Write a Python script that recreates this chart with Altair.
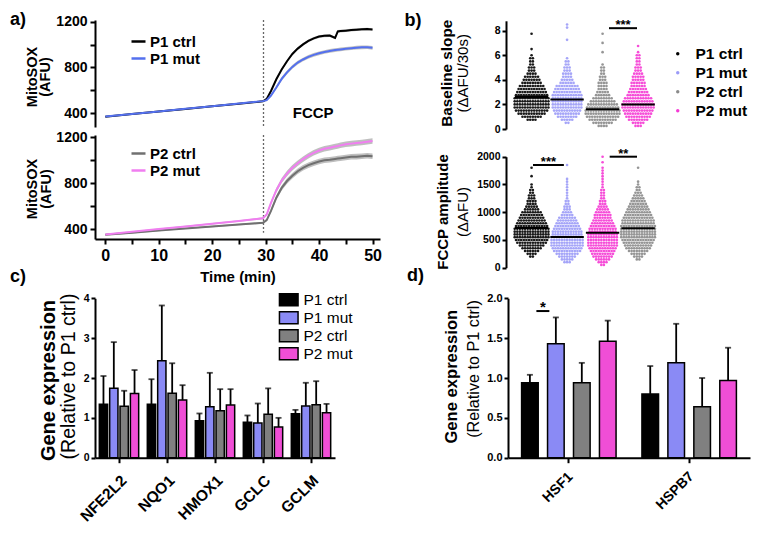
import altair as alt
import pandas as pd

FONT = "Liberation Sans"
W, H = 744, 518

# ---------------- data ----------------
series_names = ["P1 ctrl", "P1 mut", "P2 ctrl", "P2 mut"]

# a) MitoSOX traces (AFU) over time (min)
a_time = [0, 5, 10, 15, 20, 25, 29.5, 30.2, 31, 32, 33, 34, 35, 36, 37, 38, 39, 40,
          41, 42, 43, 43.5, 44, 45, 46, 47, 48, 49, 50]
a_p1_ctrl = [370, 393, 415, 438, 461, 484, 505, 525, 595, 697, 783, 855, 918, 965, 1002,
             1032, 1054, 1070, 1077, 1079, 1058, 1115, 1118, 1122, 1127, 1130, 1134, 1136, 1132]
a_p1_mut = [372, 394, 416, 439, 462, 485, 506, 515, 555, 625, 700, 758, 805, 843, 870,
            893, 910, 924, 935, 945, 952, 955, 958, 964, 968, 973, 976, 977, 972]
a_p2_ctrl = [352, 370, 390, 408, 425, 442, 457, 480, 560, 675, 760, 820, 866, 905, 935,
             958, 975, 990, 1000, 1005, 1012, 1015, 1018, 1025, 1030, 1032, 1036, 1040, 1035]
a_p2_mut = [355, 378, 402, 425, 448, 472, 496, 530, 630, 740, 825, 885, 935, 975, 1010,
            1040, 1065, 1085, 1100, 1110, 1120, 1124, 1130, 1140, 1145, 1150, 1155, 1162, 1168]
a_sem_p1_ctrl = [5, 5, 5, 5, 5, 5, 6, 8, 10, 12, 12, 12, 12, 12, 12, 12, 12, 12, 12, 12,
                 12, 12, 12, 12, 12, 12, 12, 12, 12]
a_sem_p1_mut = [5, 5, 5, 5, 5, 5, 6, 8, 10, 14, 16, 16, 16, 16, 16, 16, 16, 16, 16, 16,
                16, 16, 16, 16, 16, 16, 16, 16, 16]
a_sem_p2_ctrl = [6, 6, 6, 6, 6, 6, 8, 10, 14, 20, 22, 24, 24, 24, 24, 24, 24, 24, 24, 24,
                 24, 24, 24, 24, 24, 24, 24, 24, 24]
a_sem_p2_mut = [6, 6, 6, 6, 6, 6, 8, 10, 14, 20, 22, 24, 24, 24, 24, 24, 24, 24, 24, 24,
                24, 24, 24, 24, 24, 24, 24, 24, 24]
a_fccp_time = 29.6
a_xticks = [0, 5, 10, 15, 20, 25, 30, 35, 40, 45, 50]
a_yticks = [400, 600, 800, 1000, 1200]

# b) single-cell swarm data: counts of cells per value row
slope_order = ["P1 ctrl", "P1 mut", "P2 ctrl", "P2 mut"]
slope_bins = [0.25, 0.5, 0.75, 1.0, 1.25, 1.5, 1.75, 2.0, 2.25, 2.5, 2.75, 3.0, 3.25, 3.5,
              3.75, 4.0, 4.25, 4.5, 4.75, 5.0, 5.25, 5.5, 5.75, 6.0, 6.25, 6.5, 6.75, 7.0,
              7.25, 7.5, 7.75, 8.0, 8.25, 8.5]
slope_p1_ctrl = [0, 0, 4, 8, 11, 13, 14, 14, 14, 14, 13, 12, 11, 10, 8, 7, 6, 4, 3, 3,
                 2, 2, 2, 1, 0, 1, 0, 0, 0, 0, 1, 0, 0, 0]
slope_p1_mut = [0, 2, 5, 8, 10, 11, 12, 12, 12, 12, 12, 11, 10, 9, 6, 5, 4, 4, 3, 3,
                2, 2, 1, 0, 0, 0, 0, 0, 1, 0, 0, 0, 1, 1]
slope_p2_ctrl = [4, 8, 11, 13, 14, 14, 13, 12, 10, 8, 6, 5, 4, 4, 4, 3, 3, 2, 2, 2,
                 1, 0, 0, 0, 1, 0, 0, 1, 0, 0, 1, 0, 0, 0]
slope_p2_mut = [3, 5, 8, 10, 11, 12, 13, 13, 12, 11, 9, 8, 7, 6, 6, 5, 5, 4, 3, 3,
                2, 2, 2, 2, 1, 0, 1, 0, 0, 0, 0, 0, 0, 0]
slope_medians = [2.6, 2.4, 1.6, 2.0]

amp_order = ["P1 ctrl", "P1 mut", "P2 mut", "P2 ctrl"]
amp_bins = [50, 100, 150, 200, 250, 300, 350, 400, 450, 500, 550, 600, 650, 700, 750, 800,
            850, 900, 950, 1000, 1050, 1100, 1150, 1200, 1250, 1300, 1350, 1400, 1450, 1500,
            1550, 1600, 1650, 1700, 1750, 1800, 1850, 1900, 1950, 2000]
amp_p1_ctrl = [0, 0, 0, 2, 4, 6, 8, 10, 12, 13, 14, 14, 14, 14, 13, 12, 11, 10, 9, 8,
               6, 5, 4, 4, 3, 3, 2, 2, 1, 1, 0, 0, 1, 0, 0, 1, 0, 0, 0, 0]
amp_p1_mut = [0, 3, 5, 7, 9, 11, 12, 13, 13, 13, 13, 12, 12, 11, 10, 9, 8, 7, 5, 4,
              3, 3, 2, 2, 1, 1, 1, 1, 1, 1, 1, 1, 0, 0, 0, 0, 1, 0, 0, 0]
amp_p2_mut = [2, 4, 6, 8, 9, 10, 11, 12, 12, 12, 12, 12, 11, 11, 10, 9, 8, 7, 7, 6,
              5, 4, 3, 3, 2, 2, 2, 2, 1, 1, 1, 1, 1, 1, 1, 1, 0, 1, 0, 1]
amp_p2_ctrl = [0, 0, 2, 4, 6, 8, 10, 11, 12, 13, 14, 14, 14, 14, 14, 13, 13, 12, 11, 10,
               9, 8, 7, 6, 5, 4, 3, 2, 2, 1, 1, 0, 0, 0, 0, 1, 0, 0, 0, 0]
amp_medians = [715, 555, 630, 710]

# significance bars: (from group position, to group position, height, label)
slope_sig = [(2.18, 2.97, 8.2, "***")]
amp_sig = [(0.04, 0.91, 1850, "***"), (2.2, 2.97, 2000, "**")]

# c) gene expression (relative to P1 ctrl): means and SD
genes_c = ["NFE2L2", "NQO1", "HMOX1", "GCLC", "GCLM"]
c_p1_ctrl = [1.34, 1.34, 0.93, 0.89, 1.10]
c_p1_mut = [1.74, 2.43, 1.28, 0.87, 1.30]
c_p2_ctrl = [1.29, 1.62, 1.18, 1.09, 1.33]
c_p2_mut = [1.61, 1.45, 1.32, 0.77, 1.13]
c_p1_ctrl_sd = [0.71, 0.63, 0.18, 0.17, 0.10]
c_p1_mut_sd = [1.16, 1.39, 0.85, 0.49, 0.58]
c_p2_ctrl_sd = [0.39, 0.75, 0.54, 0.65, 0.59]
c_p2_mut_sd = [0.59, 0.37, 0.40, 0.23, 0.22]

# d) heat-shock genes
genes_d = ["HSF1", "HSPB7"]
d_p1_ctrl = [0.94, 0.80]
d_p1_mut = [1.43, 1.19]
d_p2_ctrl = [0.94, 0.64]
d_p2_mut = [1.46, 0.97]
d_p1_ctrl_sd = [0.10, 0.35]
d_p1_mut_sd = [0.33, 0.49]
d_p2_ctrl_sd = [0.25, 0.36]
d_p2_mut_sd = [0.26, 0.41]
d_sig = ("HSF1", "P1 ctrl", "P1 mut", 1.84, "*")

line_colors = ["#000000", "#5470ee", "#707070", "#f07ef0"]
dot_colors = ["#000000", "#9b9bf7", "#8a8a8a", "#f53ad4"]
bar_colors = ["#000000", "#8a8af5", "#808080", "#f04ed6"]

# ---------------- tables ----------------
a_df = pd.concat([
    pd.DataFrame({"time": a_time, "value": v, "sem": s, "series": n})
    for n, v, s in [("P1 ctrl", a_p1_ctrl, a_sem_p1_ctrl), ("P1 mut", a_p1_mut, a_sem_p1_mut),
                    ("P2 ctrl", a_p2_ctrl, a_sem_p2_ctrl), ("P2 mut", a_p2_mut, a_sem_p2_mut)]
], ignore_index=True)
a_df["lo"] = a_df["value"] - a_df["sem"]
a_df["hi"] = a_df["value"] + a_df["sem"]


def swarm_table(order, bins, counts_list):
    rows = []
    for gi, (name, counts) in enumerate(zip(order, counts_list)):
        for b, c in zip(bins, counts):
            for _ in range(c):
                rows.append({"series": name, "gi": gi, "value": b})
    return pd.DataFrame(rows)


slope_df = swarm_table(slope_order, slope_bins,
                       [slope_p1_ctrl, slope_p1_mut, slope_p2_ctrl, slope_p2_mut])
amp_df = swarm_table(amp_order, amp_bins, [amp_p1_ctrl, amp_p1_mut, amp_p2_mut, amp_p2_ctrl])


def bar_table(genes, means, sds):
    rows = []
    for name, m, s in zip(series_names, means, sds):
        for g, mv, sv in zip(genes, m, s):
            rows.append({"gene": g, "series": name, "mean": mv, "sd": sv})
    return pd.DataFrame(rows)


c_df = bar_table(genes_c, [c_p1_ctrl, c_p1_mut, c_p2_ctrl, c_p2_mut],
                 [c_p1_ctrl_sd, c_p1_mut_sd, c_p2_ctrl_sd, c_p2_mut_sd])
d_df = bar_table(genes_d, [d_p1_ctrl, d_p1_mut, d_p2_ctrl, d_p2_mut],
                 [d_p1_ctrl_sd, d_p1_mut_sd, d_p2_ctrl_sd, d_p2_mut_sd])

AX = dict(domainColor="black", domainWidth=2, tickColor="black", tickWidth=2,
          labelColor="black", labelFont=FONT, labelFontWeight="bold", grid=False,
          titleFont=FONT, titleColor="black")
ONE = pd.DataFrame({"k": [0]})


def label(s, x, y, size, weight="bold", angle=0):
    return alt.Chart(ONE).mark_text(
        text=s, font=FONT, fontSize=size, fontWeight=weight, angle=angle,
        align="center", baseline="middle", color="black"
    ).encode(x=alt.value(x), y=alt.value(y))


# ---------------- panel a ----------------
def trace_panel(names, colors, ydom, yrange, show_x, legend_y, rule_top, rule_bot, fccp_text):
    xscale = alt.Scale(domain=[-1.93, 51.4], range=[87, 372], nice=False, zero=False)
    yscale = alt.Scale(domain=ydom, range=yrange, nice=False, zero=False)
    if show_x:
        xaxis = alt.Axis(orient="bottom", offset=yrange[0] - H, values=a_xticks, format="d",
                         labelExpr="datum.value % 10 === 0 ? datum.label : ''",
                         title="Time (min)", titleFontSize=15, titleFontWeight="bold",
                         titlePadding=6, labelFontSize=16, tickSize=5, labelPadding=3, **AX)
    else:
        xaxis = None
    yaxis = alt.Axis(orient="left", offset=-87, values=a_yticks, format="d",
                     labelExpr="datum.value % 400 === 0 ? datum.label : ''",
                     title=None, labelFontSize=14, tickSize=5, labelPadding=3, **AX)
    df = a_df[a_df["series"].isin(names)]
    band = alt.Chart(df).mark_area(color="#b8b8b8", opacity=0.9).encode(
        x=alt.X("time:Q", scale=xscale, axis=xaxis),
        y=alt.Y("lo:Q", scale=yscale, axis=yaxis), y2="hi:Q", detail="series:N")
    rule = alt.Chart(pd.DataFrame({"t": [a_fccp_time], "y1": [rule_top], "y2": [rule_bot]})).mark_rule(
        color="#666666", strokeWidth=1.3, strokeDash=[2, 2]).encode(
        x=alt.X("t:Q", scale=xscale, axis=xaxis),
        y=alt.Y("y1:Q", scale=yscale, axis=yaxis), y2="y2:Q")
    lines = alt.Chart(df).mark_line(strokeWidth=2).encode(
        x=alt.X("time:Q", scale=xscale, axis=xaxis),
        y=alt.Y("value:Q", scale=yscale, axis=yaxis),
        color=alt.Color("series:N", scale=alt.Scale(domain=names, range=colors),
                        legend=alt.Legend(orient="none", legendX=122, legendY=legend_y, title=None,
                                          symbolType="stroke", symbolSize=196, symbolStrokeWidth=2.5,
                                          labelFont=FONT, labelFontSize=15, labelFontWeight="bold",
                                          labelColor="black", labelOffset=3, rowPadding=0, padding=0)))
    layers = [band, rule, lines]
    if fccp_text:
        layers.append(alt.Chart(pd.DataFrame({"t": [38.9], "v": [400], "s": ["FCCP"]})).mark_text(
            font=FONT, fontSize=15, fontWeight="bold", color="black").encode(
            x=alt.X("t:Q", scale=xscale, axis=xaxis), y=alt.Y("v:Q", scale=yscale, axis=yaxis),
            text="s:N"))
    return alt.layer(*layers)


a_top = trace_panel(["P1 ctrl", "P1 mut"], line_colors[:2], [280, 1215], [119, 12], False, 25,
                    1215, 280, True)
a_bot = trace_panel(["P2 ctrl", "P2 mut"], line_colors[2:], [316, 1220], [231, 127], True, 137,
                    1220, 370, False)


# ---------------- panel b ----------------
def swarm_panel(df, order, medians, ydom, yrange, yvals, sigs, legend):
    xscale = alt.Scale(domain=[-0.72, 3.6], range=[498, 651.4], nice=False, zero=False)
    yscale = alt.Scale(domain=ydom, range=yrange, nice=False, zero=False)
    yaxis = alt.Axis(orient="left", offset=-498, values=yvals, format="d", title=None,
                     labelFontSize=10.5, tickSize=4, labelPadding=2, **AX)
    pts = alt.Chart(df).transform_joinaggregate(
        n="count()", groupby=["series", "value"]
    ).transform_window(
        k="row_number()", groupby=["series", "value"]
    ).transform_calculate(
        xpos="datum.gi + (datum.k - 1 - (datum.n - 1) / 2) * 0.073"
    ).mark_circle(size=7, opacity=0.9).encode(
        x=alt.X("xpos:Q", scale=xscale, axis=None),
        y=alt.Y("value:Q", scale=yscale, axis=yaxis),
        color=alt.Color("series:N", scale=alt.Scale(domain=series_names, range=dot_colors),
                        legend=legend))
    med_df = pd.DataFrame({"gi": list(range(len(order))), "median": medians})
    med = alt.Chart(med_df).transform_calculate(
        x1="datum.gi - 0.47", x2="datum.gi + 0.47").mark_rule(color="black", strokeWidth=2).encode(
        x=alt.X("x1:Q", scale=xscale, axis=None), x2="x2:Q",
        y=alt.Y("median:Q", scale=yscale, axis=yaxis))
    sig_df = pd.DataFrame({"x1": [s[0] for s in sigs], "x2": [s[1] for s in sigs],
                           "y": [s[2] for s in sigs], "s": [s[3] for s in sigs]})
    sig_line = alt.Chart(sig_df).mark_rule(color="black", strokeWidth=2).encode(
        x=alt.X("x1:Q", scale=xscale, axis=None), x2="x2:Q",
        y=alt.Y("y:Q", scale=yscale, axis=yaxis))
    sig_txt = alt.Chart(sig_df).transform_calculate(xm="(datum.x1 + datum.x2) / 2").mark_text(
        font=FONT, fontSize=13, fontWeight="bold", color="black", baseline="alphabetic", dy=1).encode(
        x=alt.X("xm:Q", scale=xscale, axis=None), y=alt.Y("y:Q", scale=yscale, axis=yaxis),
        text="s:N")
    return alt.layer(pts, med, sig_line, sig_txt)


b_legend = alt.Legend(orient="none", legendX=662, legendY=38, title=None, symbolType="circle",
                      symbolSize=12, symbolOpacity=1, labelFont=FONT, labelFontSize=15.5,
                      labelFontWeight="bold", labelColor="black", labelOffset=10, rowPadding=2,
                      padding=0)
b_top = swarm_panel(slope_df, slope_order, slope_medians, [0, 8.8], [121, 12.8], [0, 2, 4, 6, 8],
                    slope_sig, b_legend)
b_bot = swarm_panel(amp_df, amp_order, amp_medians, [0, 2000], [259.7, 148.7],
                    [0, 500, 1000, 1500, 2000], amp_sig, None)


# ---------------- panels c and d ----------------
BAR_YRANGE = [449.7, 290.3]


def bar_scales(genes, xrange, pin, pout, sub_pin, ydom):
    xscale = alt.Scale(domain=genes, range=xrange, paddingInner=pin, paddingOuter=pout)
    xoscale = alt.Scale(domain=series_names, paddingInner=sub_pin, paddingOuter=0)
    yscale = alt.Scale(domain=ydom, range=BAR_YRANGE, nice=False, zero=True)
    return xscale, xoscale, yscale


def band_geometry(genes, xrange, pin, pout, gene):
    # start and width of one category band, mirroring the band scale above
    step = (xrange[1] - xrange[0]) / (len(genes) - pin + 2 * pout)
    band = step * (1 - pin)
    start = xrange[0] + step * pout + genes.index(gene) * step
    return start, band


def bar_centers(genes, xrange, pin, pout, sub_pin, gene, series):
    start, band = band_geometry(genes, xrange, pin, pout, gene)
    sub_step = band / (len(series_names) - sub_pin)
    return start + sub_step * series_names.index(series) + sub_step * (1 - sub_pin) / 2


def bar_panel(df, genes, xrange, pin, pout, sub_pin, ydom, yvals, yfmt, ylab, xlab, legend,
              show_labels=True):
    xscale, xoscale, yscale = bar_scales(genes, xrange, pin, pout, sub_pin, ydom)
    xaxis = alt.Axis(orient="bottom", offset=BAR_YRANGE[0] - H, title=None, labelAngle=-45,
                     labels=show_labels, labelFontSize=xlab, tickSize=5, labelPadding=10, **AX)
    yaxis = alt.Axis(orient="left", offset=-xrange[0], values=yvals, format=yfmt, title=None,
                     labelFontSize=ylab, tickSize=4, labelPadding=2, **AX)
    x = alt.X("gene:N", sort=genes, scale=xscale, axis=xaxis)
    xo = alt.XOffset("series:N", sort=series_names, scale=xoscale)
    bars = alt.Chart(df).mark_bar(stroke="black", strokeWidth=1.5).encode(
        x=x, xOffset=xo, y=alt.Y("mean:Q", scale=yscale, axis=yaxis),
        color=alt.Color("series:N", scale=alt.Scale(domain=series_names, range=bar_colors),
                        legend=legend))
    err = alt.Chart(df).transform_calculate(top="datum.mean + datum.sd").mark_rule(
        color="black", strokeWidth=1.8).encode(
        x=x, xOffset=xo, y=alt.Y("mean:Q", scale=yscale, axis=yaxis), y2="top:Q")
    cap = alt.Chart(df).transform_calculate(top="datum.mean + datum.sd").mark_tick(
        color="black", thickness=1.8, size=6).encode(
        x=x, xOffset=xo, y=alt.Y("top:Q", scale=yscale, axis=yaxis))
    return alt.layer(bars, err, cap)


def bar_sig(genes, xrange, pin, pout, sub_pin, ydom, sig):
    _, _, yscale = bar_scales(genes, xrange, pin, pout, sub_pin, ydom)
    g, s1, s2, yv, txt = sig
    x0 = bar_centers(genes, xrange, pin, pout, sub_pin, g, s1)
    x1 = bar_centers(genes, xrange, pin, pout, sub_pin, g, s2)
    xs = alt.Scale(domain=[s1, s2], range=[x0, x1])
    sdf = pd.DataFrame({"series": [s1, s2], "y": [yv, yv]})
    sl = alt.Chart(sdf).mark_line(color="black", strokeWidth=2).encode(
        x=alt.X("series:O", scale=xs, axis=None), y=alt.Y("y:Q", scale=yscale, axis=None))
    st = alt.Chart(pd.DataFrame({"y": [yv], "s": [txt]})).mark_text(
        font=FONT, fontSize=15, fontWeight="bold", color="black", baseline="alphabetic",
        dy=1).encode(x=alt.value((x0 + x1) / 2), y=alt.Y("y:Q", scale=yscale, axis=None),
                     text="s:N")
    return alt.layer(sl, st)


def rotated_category_labels(genes, xrange, pin, pout, size):
    # slanted category names, centred so that their upper-right end sits under the tick
    out = []
    for g in genes:
        start, band = band_geometry(genes, xrange, pin, pout, g)
        half = 0.354 * 0.65 * size * len(g)
        out.append(label(g, start + band / 2 - half + 2, BAR_YRANGE[0] + 17 + half, size,
                         angle=315))
    return out


c_legend = alt.Legend(orient="none", legendX=273, legendY=284, title=None,
                      symbolType="M-1.55,-1H1.55V1H-1.55Z", symbolSize=144,
                      symbolStrokeColor="black", symbolStrokeWidth=1.5, symbolOpacity=1,
                      labelFont=FONT, labelFontSize=15.5, labelFontWeight="normal",
                      labelColor="black", labelOffset=7, rowPadding=-1, padding=0)
c_args = (genes_c, [87, 327], 0.18, 0.09, 0.2, [0, 4])
d_args = (genes_d, [500, 742], 0.215, 0.113, 0.36, [0, 2])
c_panel = bar_panel(c_df, *c_args, [0, 1, 2, 3, 4], "d", 10.5, 15.5, c_legend)
d_panel = bar_panel(d_df, *d_args, [0, 0.5, 1, 1.5, 2], ".1f", 11, 14, None, show_labels=False)
d_sig_layer = bar_sig(*d_args, d_sig)
d_xlabels = rotated_category_labels(genes_d, [500, 742], 0.215, 0.113, 14)

# ---------------- text annotations ----------------
texts = [
    label("a)", 10, 11.5, 18), label("b)", 405, 12.5, 18),
    label("c)", 10, 269, 18), label("d)", 407.5, 268, 18),
    label("MitoSOX", 24.5, 69, 14.5, angle=270), label("(AFU)", 37.5, 69, 14.5, angle=270),
    label("MitoSOX", 24.5, 181, 14.5, angle=270), label("(AFU)", 39, 181, 14.5, angle=270),
    label("Baseline slope", 438.5, 65.3, 15.3, angle=270),
    label("(ΔAFU/30s)", 454.5, 65.3, 15, weight="normal", angle=270),
    label("FCCP amplitude", 435.3, 204, 15, angle=270),
    label("(ΔAFU)", 454.5, 204, 15, weight="normal", angle=270),
    label("Gene expression", 41, 372.5, 20, angle=270),
    label("(Relative to P1 ctrl)", 60.5, 368.5, 19.5, weight="normal", angle=270),
    label("Gene expression", 444, 368.7, 16.6, angle=270),
    label("(Relative to P1 ctrl)", 466, 361, 16.2, weight="normal", angle=270),
]

chart = alt.layer(a_top, a_bot, b_top, b_bot, c_panel, d_panel, d_sig_layer, *d_xlabels,
                  *texts).resolve_scale(
    x="independent", y="independent", color="independent", xOffset="independent"
).properties(
    width=W, height=H, padding=0, autosize=alt.AutoSizeParams(type="none")
).configure_view(stroke=None)

chart.save("out.html", embed_options={"renderer": "svg", "actions": False})
